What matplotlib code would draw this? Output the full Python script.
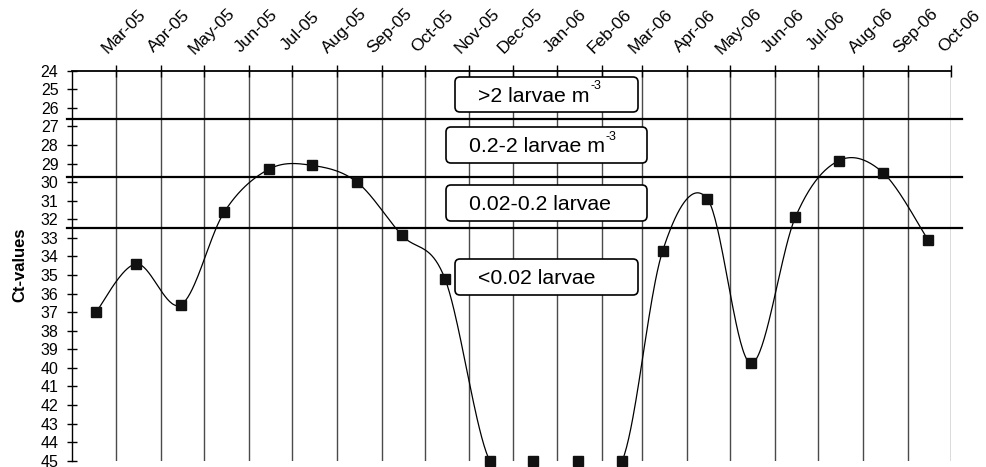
import datetime as dt
import matplotlib
matplotlib.use("Agg")
from matplotlib import pyplot as plt
from matplotlib import dates as mdates
from matplotlib import transforms
from matplotlib.patches import FancyBboxPatch
from matplotlib.text import Annotation
import numpy as np

plt.rcParams['font.family'] = ['Liberation Sans', 'DejaVu Sans']

# monthly samples (taken around mid month) and their Ct-values
sample_months = ["2005-02", "2005-03", "2005-04", "2005-05", "2005-06", "2005-07",
                 "2005-08", "2005-09", "2005-10", "2005-11", "2005-12", "2006-01",
                 "2006-02", "2006-03", "2006-04", "2006-05", "2006-06", "2006-07",
                 "2006-08", "2006-09"]
ct_values = [37.0, 34.4, 36.6, 31.6, 29.3, 29.1, 30.0, 32.85, 35.2, 45.0,
             45.0, 45.0, 45.0, 33.7, 30.9, 39.75, 31.9, 28.85, 29.5, 33.1]

month_ticks = ["2005-03", "2005-04", "2005-05", "2005-06", "2005-07", "2005-08",
               "2005-09", "2005-10", "2005-11", "2005-12", "2006-01", "2006-02",
               "2006-03", "2006-04", "2006-05", "2006-06", "2006-07", "2006-08",
               "2006-09", "2006-10"]

thresholds = [26.6, 29.7, 32.45]
class_text = [">2 larvae m", "0.2-2 larvae m", "0.02-0.2 larvae", "<0.02 larvae"]
class_sup = ["-3", "-3", "", ""]
# box extents in pixels (left, right, top, bottom)
class_box = [(455, 638, 77, 112), (446, 647, 127, 163), (446, 647, 185, 221), (455, 638, 259, 295)]


def catmull(xs, ys, n=40):
    # Excel-like smoothed line through the points
    px = np.concatenate([[xs[0]], xs, [xs[-1]]])
    py = np.concatenate([[ys[0]], ys, [ys[-1]]])
    t = np.linspace(0, 1, n)
    out_x, out_y = [], []
    for i in range(1, len(px) - 2):
        p0x, p1x, p2x, p3x = px[i - 1], px[i], px[i + 1], px[i + 2]
        p0y, p1y, p2y, p3y = py[i - 1], py[i], py[i + 1], py[i + 2]
        c1x, c1y = p1x + (p2x - p0x) / 6, p1y + (p2y - p0y) / 6
        c2x, c2y = p2x - (p3x - p1x) / 6, p2y - (p3y - p1y) / 6
        bx = (1 - t) ** 3 * p1x + 3 * (1 - t) ** 2 * t * c1x + 3 * (1 - t) * t ** 2 * c2x + t ** 3 * p2x
        by = (1 - t) ** 3 * p1y + 3 * (1 - t) ** 2 * t * c1y + 3 * (1 - t) * t ** 2 * c2y + t ** 3 * p2y
        out_x.extend(bx)
        out_y.extend(by)
    return np.array(out_x), np.array(out_y)


W, H = 987, 467
fig = plt.figure(figsize=(W / 100, H / 100), dpi=100)
ax_l, ax_r, ax_t, ax_b = 72, 951, 70.7, 460.7
ax = fig.add_axes([ax_l / W, (H - ax_b) / H, (ax_r - ax_l) / W, (ax_b - ax_t) / H])

x = mdates.date2num([dt.datetime.strptime(m + "-15", "%Y-%m-%d") for m in sample_months])
ticks = [dt.datetime.strptime(m + "-01", "%Y-%m-%d") for m in month_ticks]
tick_x = mdates.date2num(ticks)

sx, sy = catmull(x, np.array(ct_values))
# the part lying on/below the 45 floor is not shown
sy = np.where(sy >= 44.95, np.nan, sy)
ax.plot(sx, sy, color='black', lw=0.9, zorder=3)
ax.plot(x, ct_values, ls='none', marker='s', ms=6.5, color='#111111', zorder=4, clip_on=False)

ax.set_xlim(mdates.date2num(dt.datetime(2005, 1, 29, 8)), tick_x[-1])
ax.set_ylim(45, 24)
ax.set_yticks(range(24, 46))
ax.set_xticks(tick_x)
ax.xaxis.tick_top()
ax.tick_params(axis='x', direction='inout', length=9, width=1, labeltop=False, labelbottom=False)
ax.tick_params(axis='y', direction='inout', length=7.6, width=1, pad=6, labelsize=11.5)
ax.grid(axis='x', color='#4a4a4a', lw=1)
for s in ['right', 'bottom']:
    ax.spines[s].set_visible(False)
ax.spines['top'].set_linewidth(1.3)
ax.spines['left'].set_linewidth(1)

for th in thresholds:
    ax.axhline(th, xmin=-0.006, xmax=1.012, color='black', lw=1.6, clip_on=False, zorder=2)

# rotated month labels above the axis
trans = transforms.blended_transform_factory(ax.transData, fig.transFigure)
trans = trans + transforms.ScaledTranslation(8 / 100, 0, fig.dpi_scale_trans)
for tx, d in zip(tick_x, ticks):
    ax.text(tx, 1 - 31 / H, d.strftime("%b-%y"), rotation=45, ha='center', va='center',
            fontsize=12.5, transform=trans)

fig.text(20 / W, 1 - 265 / H, "Ct-values", rotation=90, ha='center', va='center',
         fontsize=12, fontweight='bold')

# concentration class boxes
for txt, sup, (bl, br, bt, bb) in zip(class_text, class_sup, class_box):
    box = FancyBboxPatch((bl / W, 1 - bb / H), (br - bl) / W, (bb - bt) / H,
                         boxstyle="round,pad=0,rounding_size=%f" % (5 / W),
                         mutation_aspect=W / H, transform=fig.transFigure,
                         facecolor='white', edgecolor='black', lw=1.2, zorder=5)
    fig.patches.append(box)
    t = fig.text((bl + 23) / W, 1 - (bt + bb) / 2 / H, txt, ha='left', va='center_baseline',
                 fontsize=15.3, zorder=6)
    if sup:
        a = Annotation(sup, xy=(1, 1), xycoords=t, xytext=(0.5, 5), textcoords='offset points',
                       ha='left', va='top', fontsize=9, annotation_clip=False)
        a.set_zorder(7)
        fig.add_artist(a)

fig.savefig("out.png", dpi=100)
